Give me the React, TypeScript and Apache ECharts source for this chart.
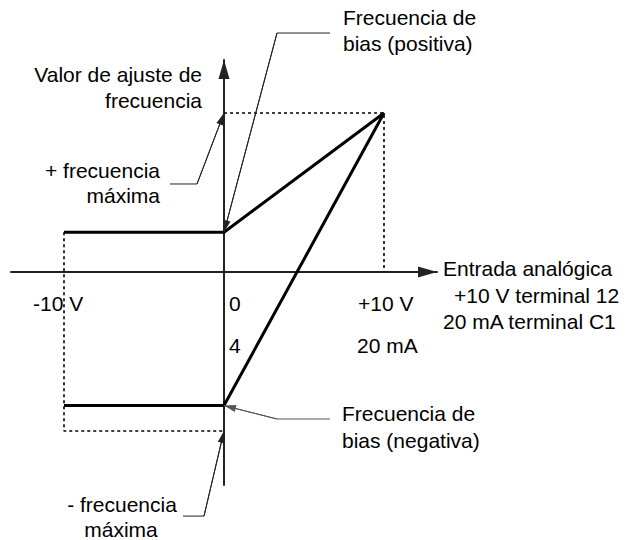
import React, { useEffect, useRef } from "react";
import * as echarts from "echarts";

// ---- Data (input in V, frequency setting in % of max frequency) ----
const positiveBiasCurve: number[][] = [[-10, 25], [0, 25], [10, 100]];
const negativeBiasCurve: number[][] = [[-10, -84], [0, -84], [10, 100]];
const positiveMaxGuide: number[][] = [[0, 100], [10, 100], [10, 0]];
const negativeMaxGuide: number[][] = [[-10, 25], [-10, -100], [0, -100]];

// tick / axis labels
const voltTickLabels = ["-10 V", "0", "+10 V"];
const currentTickLabels = ["4", "20 mA"];
const xAxisTitle = ["Entrada analógica", "+10 V terminal 12", "20 mA terminal C1"];
const yAxisTitle = ["Valor de ajuste de", "frecuencia"];
const biasPosLabel = ["Frecuencia de", "bias (positiva)"];
const biasNegLabel = ["Frecuencia de", "bias (negativa)"];
const maxPosLabel = ["+ frecuencia", "máxima"];
const maxNegLabel = ["- frecuencia", "máxima"];

// annotation leader lines (text end, elbow, arrow tip) in data space
const leaderBiasPos: number[][] = [[6.625, 150.3], [3.3125, 150.3], [0, 25]];
const leaderMaxPos: number[][] = [[-3.375, 55.35], [-1.6875, 55.35], [0, 100]];
const leaderBiasNeg: number[][] = [[6.625, -92.45], [3.3125, -92.45], [0, -84]];
const leaderMaxNeg: number[][] = [[-2.5625, -153.5], [-1.25, -153.5], [0, -100]];

const FAMILY = "Liberation Sans, Arial, Helvetica, sans-serif";
const PXX = 16;
const PXY = 1.59;

function txt(text: string, x: number, y: number, align: string = "left") {
  return {
    type: "text",
    x,
    y,
    silent: true,
    style: {
      text,
      fontFamily: FAMILY,
      fontSize: 21,
      fill: "#000",
      textAlign: align,
      textVerticalAlign: "middle",
      verticalAlign: "middle",
    },
  };
}

function leader(name: string, pts: number[][], color: string) {
  return {
    name,
    type: "line",
    xAxisIndex: 1,
    yAxisIndex: 1,
    data: pts,
    symbol: "none",
    silent: true,
    lineStyle: { color, width: 1 },
    markLine: {
      silent: true,
      label: { show: false },
      lineStyle: { color, width: 1, type: "solid" },
      emphasis: { disabled: true },
      data: [
        [
          { coord: pts[1], symbol: "none" },
          { coord: pts[2], symbol: "triangle", symbolSize: [7, 12], symbolOffset: [0, 6] },
        ],
      ],
    },
  };
}

export default function App() {
  const ref = useRef<HTMLDivElement>(null);
  useEffect(() => {
    if (!ref.current) return;
    const chart = echarts.init(ref.current, undefined, { renderer: "svg" });
    const axisCommon = {
      type: "value",
      axisTick: { show: false },
      axisLabel: { show: false },
      splitLine: { show: false },
    };
    chart.setOption({
      animation: false,
      backgroundColor: "#fff",
      grid: [
        { left: 11, top: 60, width: 426, height: 425, containLabel: false, outerBoundsMode: "none" },
        { left: 0, top: 0, width: 631, height: 540, containLabel: false, outerBoundsMode: "none" },
      ],
      xAxis: [
        {
          ...axisCommon,
          gridIndex: 0,
          min: -213 / PXX,
          max: 213 / PXX,
          axisLine: {
            show: true,
            onZero: true,
            symbol: ["none", "triangle"],
            symbolSize: [11, 19],
            symbolOffset: [0, -9.5],
            lineStyle: { color: "#222", width: 2 },
          },
        },
        { ...axisCommon, gridIndex: 1, show: false, min: -224 / PXX, max: 407 / PXX },
      ],
      yAxis: [
        {
          ...axisCommon,
          gridIndex: 0,
          min: -213 / PXY,
          max: 212 / PXY,
          axisLine: {
            show: true,
            onZero: true,
            symbol: ["none", "triangle"],
            symbolSize: [11, 19],
            symbolOffset: [0, -9.5],
            lineStyle: { color: "#222", width: 2 },
          },
        },
        { ...axisCommon, gridIndex: 1, show: false, min: -268 / PXY, max: 272 / PXY },
      ],
      series: [
        {
          name: "guide+",
          type: "line",
          data: positiveMaxGuide,
          symbol: "none",
          silent: true,
          lineStyle: { color: "#000", width: 1.6, type: [3, 3] },
        },
        {
          name: "guide-",
          type: "line",
          data: negativeMaxGuide,
          symbol: "none",
          silent: true,
          lineStyle: { color: "#000", width: 1.6, type: [3, 3] },
        },
        {
          name: "bias+",
          type: "line",
          data: positiveBiasCurve,
          symbol: "none",
          silent: true,
          lineStyle: { color: "#000", width: 3 },
        },
        {
          name: "bias-",
          type: "line",
          data: negativeBiasCurve,
          symbol: "none",
          silent: true,
          lineStyle: { color: "#000", width: 3 },
        },
        leader("leaderBiasPos", leaderBiasPos, "#222"),
        leader("leaderMaxPos", leaderMaxPos, "#222"),
        leader("leaderBiasNeg", leaderBiasNeg, "#555"),
        leader("leaderMaxNeg", leaderMaxNeg, "#222"),
      ],
      graphic: [
        txt(biasPosLabel[0], 343, 17.5),
        txt(biasPosLabel[1], 343, 43),
        txt(yAxisTitle[0], 202, 74, "right"),
        txt(yAxisTitle[1], 202, 100.5, "right"),
        txt(maxPosLabel[0], 160, 170, "right"),
        txt(maxPosLabel[1], 160, 195, "right"),
        txt(voltTickLabels[0], 33, 303),
        txt(voltTickLabels[1], 229, 303),
        txt(voltTickLabels[2], 358, 303),
        txt(currentTickLabels[0], 229, 345),
        txt(currentTickLabels[1], 357, 345),
        txt(xAxisTitle[0], 443, 268),
        txt(xAxisTitle[1], 454, 295),
        txt(xAxisTitle[2], 443, 321.5),
        txt(biasNegLabel[0], 342, 413),
        txt(biasNegLabel[1], 342, 440.5),
        txt(maxNegLabel[0], 122, 504, "center"),
        txt(maxNegLabel[1], 121, 529, "center"),
      ],
    });
    return () => chart.dispose();
  }, []);
  return (
    <div
      ref={ref}
      style={{ position: "fixed", left: 0, top: 0, width: 631, height: 540, background: "#fff" }}
    />
  );
}
